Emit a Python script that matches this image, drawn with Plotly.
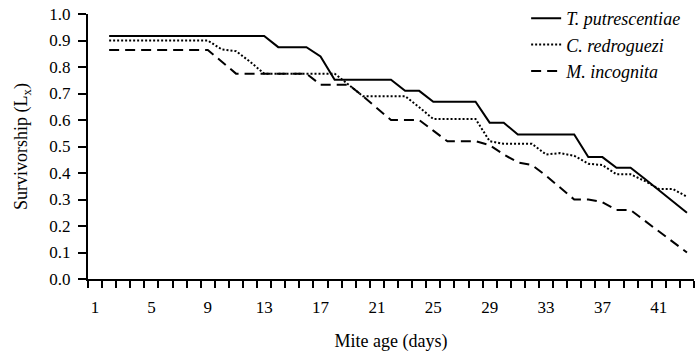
import plotly.graph_objects as go

days = list(range(2, 44))

t_putrescentiae = [0.917]*12 + [0.875]*3 + [0.84] + [0.752]*5 + [0.71]*2 + [0.669]*4 + \
    [0.59]*2 + [0.545]*5 + [0.46]*2 + [0.42]*2 + [0.378, 0.335, 0.292, 0.25]

c_redroguezi = [0.90]*8 + [0.866, 0.86, 0.82] + [0.775]*6 + [0.733] + [0.69]*4 + [0.648] + \
    [0.604]*4 + [0.52] + [0.51]*3 + [0.47, 0.475, 0.465, 0.435, 0.43, 0.395, 0.395, 0.37, 0.34, 0.34, 0.31]

m_incognita = [0.864]*8 + [0.82] + [0.775]*6 + [0.733]*3 + [0.69, 0.645] + [0.60]*3 + [0.56] + \
    [0.52]*3 + [0.505, 0.47, 0.44, 0.43, 0.39, 0.345] + [0.30]*2 + [0.29] + [0.26]*2 + \
    [0.22, 0.18, 0.14, 0.10]

series = [
    ("T. putrescentiae", t_putrescentiae, "solid"),
    ("C. redroguezi", c_redroguezi, "2px,2px"),
    ("M. incognita", m_incognita, "10px,6px"),
]

x_labels = list(range(1, 44, 4))
y_ticks = [i / 10 for i in range(11)]

fig = go.Figure()
for name, vals, dash in series:
    fig.add_trace(go.Scatter(x=days, y=vals, mode="lines", name=name,
                             line=dict(color="black", width=2, dash=dash)))

font = "Liberation Serif"
fig.update_layout(
    width=695, height=353,
    margin=dict(l=88, r=1, t=13, b=74),
    paper_bgcolor="white", plot_bgcolor="white",
    font=dict(family=font, size=17, color="black"),
    showlegend=True,
    legend=dict(x=0.723, xanchor="left", y=1.05, yanchor="top",
                font=dict(family=font, size=18, color="black", style="italic"),
                bgcolor="rgba(0,0,0,0)", tracegroupgap=0),
    xaxis=dict(range=[0.5, 43.5], tickvals=x_labels, ticktext=[str(v) for v in x_labels],
               ticks="", showgrid=False, zeroline=False, showline=True,
               linecolor="black", linewidth=2, ticklabelstandoff=12,
               tickfont=dict(family=font, size=17),
               minor=dict(ticks="outside", tick0=0.5, dtick=1, ticklen=7, tickwidth=2,
                          tickcolor="black", showgrid=False),
               title=dict(text="Mite age (days)", standoff=18, font=dict(family=font, size=18))),
    yaxis=dict(range=[0, 1], tickvals=y_ticks, tickformat=".1f",
               ticks="outside", ticklen=8, tickwidth=2, tickcolor="black",
               showgrid=False, zeroline=False, showline=True,
               linecolor="black", linewidth=2, ticklabelstandoff=4,
               tickfont=dict(family=font, size=17),
               title=dict(text="Survivorship (L<sub>x</sub>)", standoff=17,
                          font=dict(family=font, size=18))),
)

fig.write_html("out.html", config={"displayModeBar": False},
               post_script="document.body.style.margin='0px';")
